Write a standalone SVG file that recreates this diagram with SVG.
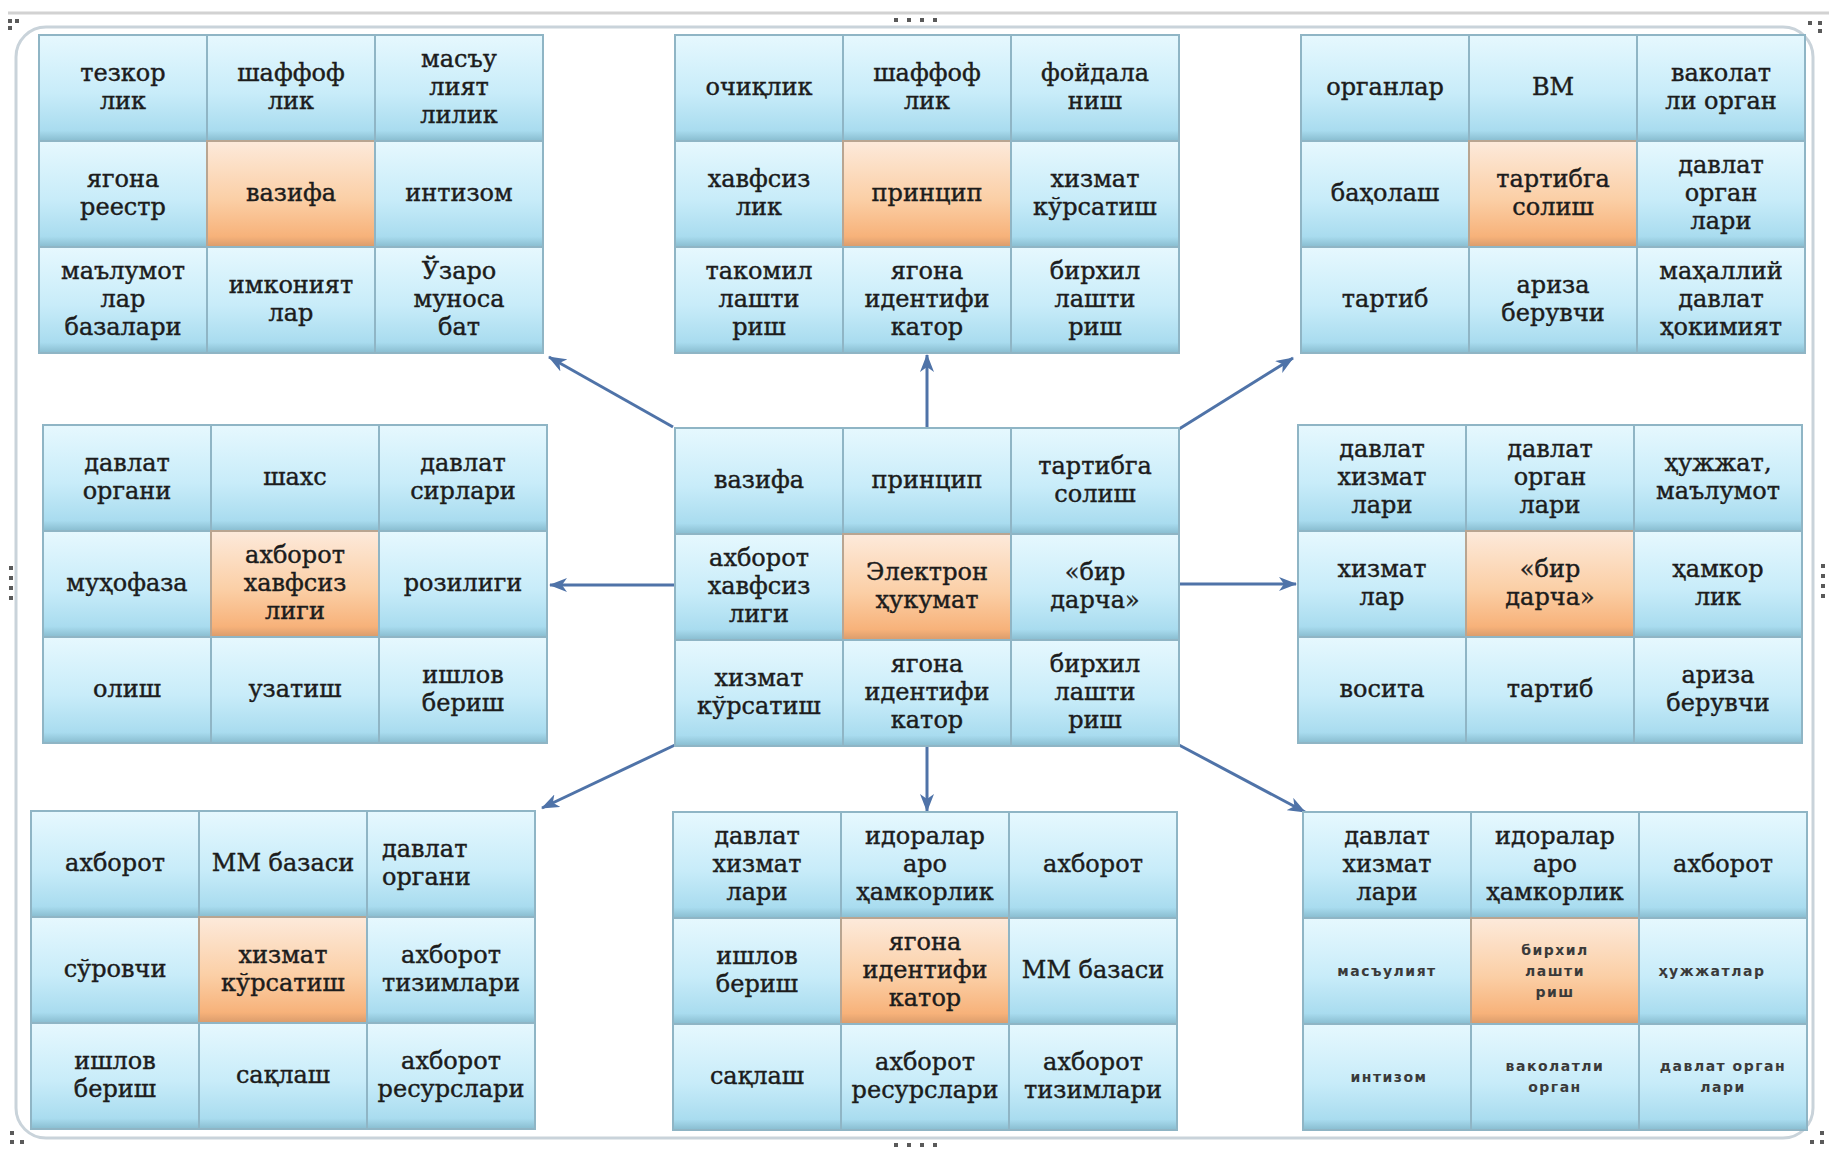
<svg xmlns="http://www.w3.org/2000/svg" width="1829" height="1149" viewBox="0 0 1829 1149">
<defs>
<linearGradient id="gb" x1="0" y1="0" x2="0" y2="1">
<stop offset="0" stop-color="#e6f8fe"/>
<stop offset="0.55" stop-color="#c8ecf9"/>
<stop offset="0.9" stop-color="#a9dcef"/>
<stop offset="1" stop-color="#88bccf"/>
</linearGradient>
<linearGradient id="go" x1="0" y1="0" x2="0" y2="1">
<stop offset="0" stop-color="#fdeadb"/>
<stop offset="0.55" stop-color="#fbcfa6"/>
<stop offset="0.9" stop-color="#f7b27a"/>
<stop offset="1" stop-color="#d99b6b"/>
</linearGradient>
<marker id="ah" markerUnits="userSpaceOnUse" markerWidth="18" markerHeight="14" refX="17" refY="7" orient="auto">
<path d="M0,0 L18,7 L0,14 L5,7 Z" fill="#4f73a8"/>
</marker>
<style>
.c{fill:url(#gb);stroke:#8fb5c5;stroke-width:2}
.o{fill:url(#go);stroke:#b9a591;stroke-width:2}
.t{font-family:"DejaVu Serif","Liberation Serif",serif;font-size:24px;fill:#1c1c1c;stroke:#1c1c1c;stroke-width:0.4;text-anchor:middle}
.s{font-family:"DejaVu Sans","Liberation Sans",sans-serif;font-size:14px;font-weight:bold;fill:#3a3a3a;text-anchor:middle;letter-spacing:1.5px}
.l{text-anchor:start}
.ar{fill:none;stroke:#4f73a8;stroke-width:3;marker-end:url(#ah)}
.h{fill:#5a5a5a}
</style>
</defs>
<rect width="1829" height="1149" fill="#ffffff"/>
<line x1="8" y1="13" x2="1829" y2="13" stroke="#d2d2d2" stroke-width="3"/>
<rect x="16" y="27" width="1797" height="1111" rx="30" fill="none" stroke="#c9d3da" stroke-width="3"/>
<g id="handles">
<rect class="h" x="8" y="19" width="4" height="4"/><rect class="h" x="15" y="19" width="4" height="4"/><rect class="h" x="8" y="26" width="4" height="4"/>
<rect class="h" x="1808" y="21" width="4" height="4"/><rect class="h" x="1818" y="21" width="4" height="4"/><rect class="h" x="1818" y="29" width="4" height="4"/>
<rect class="h" x="10" y="1131" width="4" height="4"/><rect class="h" x="10" y="1140" width="4" height="4"/><rect class="h" x="20" y="1140" width="4" height="4"/>
<rect class="h" x="1820" y="1131" width="4" height="4"/><rect class="h" x="1810" y="1140" width="4" height="4"/><rect class="h" x="1820" y="1140" width="4" height="4"/>
<rect class="h" x="894" y="18" width="4" height="4"/><rect class="h" x="907" y="18" width="4" height="4"/><rect class="h" x="920" y="18" width="4" height="4"/><rect class="h" x="933" y="18" width="4" height="4"/>
<rect class="h" x="894" y="1143" width="4" height="4"/><rect class="h" x="907" y="1143" width="4" height="4"/><rect class="h" x="920" y="1143" width="4" height="4"/><rect class="h" x="933" y="1143" width="4" height="4"/>
<rect class="h" x="9" y="566" width="4" height="4"/><rect class="h" x="9" y="576" width="4" height="4"/><rect class="h" x="9" y="586" width="4" height="4"/><rect class="h" x="9" y="596" width="4" height="4"/>
<rect class="h" x="1821" y="564" width="4" height="4"/><rect class="h" x="1821" y="574" width="4" height="4"/><rect class="h" x="1821" y="584" width="4" height="4"/><rect class="h" x="1821" y="594" width="4" height="4"/>
</g>

<g id="connectors">
<line class="ar" x1="673" y1="427" x2="549" y2="357"/>
<line class="ar" x1="927" y1="428" x2="927" y2="355"/>
<line class="ar" x1="1179" y1="429" x2="1293" y2="358"/>
<line class="ar" x1="675" y1="585" x2="550" y2="585"/>
<line class="ar" x1="1179" y1="584" x2="1296" y2="584"/>
<line class="ar" x1="675" y1="745" x2="542" y2="808"/>
<line class="ar" x1="927" y1="746" x2="927" y2="811"/>
<line class="ar" x1="1179" y1="745" x2="1305" y2="812"/>
</g>

<g id="grid-vazifa">
<g id="tl-1"><rect class="c" x="39" y="35" width="168" height="106"/><text class="t"><tspan x="123" y="81">тезкор</tspan><tspan x="123" y="109">лик</tspan></text></g>
<g id="tl-2"><rect class="c" x="207" y="35" width="168" height="106"/><text class="t"><tspan x="291" y="81">шаффоф</tspan><tspan x="291" y="109">лик</tspan></text></g>
<g id="tl-3"><rect class="c" x="375" y="35" width="168" height="106"/><text class="t"><tspan x="459" y="67">масъу</tspan><tspan x="459" y="95">лият</tspan><tspan x="459" y="123">лилик</tspan></text></g>
<g id="tl-4"><rect class="c" x="39" y="141" width="168" height="106"/><text class="t"><tspan x="123" y="187">ягона</tspan><tspan x="123" y="215">реестр</tspan></text></g>
<g id="tl-5"><rect class="o" x="207" y="141" width="168" height="106"/><text class="t" x="291" y="201">вазифа</text></g>
<g id="tl-6"><rect class="c" x="375" y="141" width="168" height="106"/><text class="t" x="459" y="201">интизом</text></g>
<g id="tl-7"><rect class="c" x="39" y="247" width="168" height="106"/><text class="t"><tspan x="123" y="279">маълумот</tspan><tspan x="123" y="307">лар</tspan><tspan x="123" y="335">базалари</tspan></text></g>
<g id="tl-8"><rect class="c" x="207" y="247" width="168" height="106"/><text class="t"><tspan x="291" y="293">имконият</tspan><tspan x="291" y="321">лар</tspan></text></g>
<g id="tl-9"><rect class="c" x="375" y="247" width="168" height="106"/><text class="t"><tspan x="459" y="279">Ўзаро</tspan><tspan x="459" y="307">муноса</tspan><tspan x="459" y="335">бат</tspan></text></g>
</g>

<g id="grid-printsip">
<g id="tm-1"><rect class="c" x="675" y="35" width="168" height="106"/><text class="t" x="759" y="95">очиқлик</text></g>
<g id="tm-2"><rect class="c" x="843" y="35" width="168" height="106"/><text class="t"><tspan x="927" y="81">шаффоф</tspan><tspan x="927" y="109">лик</tspan></text></g>
<g id="tm-3"><rect class="c" x="1011" y="35" width="168" height="106"/><text class="t"><tspan x="1095" y="81">фойдала</tspan><tspan x="1095" y="109">ниш</tspan></text></g>
<g id="tm-4"><rect class="c" x="675" y="141" width="168" height="106"/><text class="t"><tspan x="759" y="187">хавфсиз</tspan><tspan x="759" y="215">лик</tspan></text></g>
<g id="tm-5"><rect class="o" x="843" y="141" width="168" height="106"/><text class="t" x="927" y="201">принцип</text></g>
<g id="tm-6"><rect class="c" x="1011" y="141" width="168" height="106"/><text class="t"><tspan x="1095" y="187">хизмат</tspan><tspan x="1095" y="215">кўрсатиш</tspan></text></g>
<g id="tm-7"><rect class="c" x="675" y="247" width="168" height="106"/><text class="t"><tspan x="759" y="279">такомил</tspan><tspan x="759" y="307">лашти</tspan><tspan x="759" y="335">риш</tspan></text></g>
<g id="tm-8"><rect class="c" x="843" y="247" width="168" height="106"/><text class="t"><tspan x="927" y="279">ягона</tspan><tspan x="927" y="307">идентифи</tspan><tspan x="927" y="335">катор</tspan></text></g>
<g id="tm-9"><rect class="c" x="1011" y="247" width="168" height="106"/><text class="t"><tspan x="1095" y="279">бирхил</tspan><tspan x="1095" y="307">лашти</tspan><tspan x="1095" y="335">риш</tspan></text></g>
</g>

<g id="grid-tartibga-solish">
<g id="tr-1"><rect class="c" x="1301" y="35" width="168" height="106"/><text class="t" x="1385" y="95">органлар</text></g>
<g id="tr-2"><rect class="c" x="1469" y="35" width="168" height="106"/><text class="t" x="1553" y="95">ВМ</text></g>
<g id="tr-3"><rect class="c" x="1637" y="35" width="168" height="106"/><text class="t"><tspan x="1721" y="81">ваколат</tspan><tspan x="1721" y="109">ли орган</tspan></text></g>
<g id="tr-4"><rect class="c" x="1301" y="141" width="168" height="106"/><text class="t" x="1385" y="201">баҳолаш</text></g>
<g id="tr-5"><rect class="o" x="1469" y="141" width="168" height="106"/><text class="t"><tspan x="1553" y="187">тартибга</tspan><tspan x="1553" y="215">солиш</tspan></text></g>
<g id="tr-6"><rect class="c" x="1637" y="141" width="168" height="106"/><text class="t"><tspan x="1721" y="173">давлат</tspan><tspan x="1721" y="201">орган</tspan><tspan x="1721" y="229">лари</tspan></text></g>
<g id="tr-7"><rect class="c" x="1301" y="247" width="168" height="106"/><text class="t" x="1385" y="307">тартиб</text></g>
<g id="tr-8"><rect class="c" x="1469" y="247" width="168" height="106"/><text class="t"><tspan x="1553" y="293">ариза</tspan><tspan x="1553" y="321">берувчи</tspan></text></g>
<g id="tr-9"><rect class="c" x="1637" y="247" width="168" height="106"/><text class="t"><tspan x="1721" y="279">маҳаллий</tspan><tspan x="1721" y="307">давлат</tspan><tspan x="1721" y="335">ҳокимият</tspan></text></g>
</g>

<g id="grid-axborot-xavfsizligi">
<g id="ml-1"><rect class="c" x="43" y="425" width="168" height="106"/><text class="t"><tspan x="127" y="471">давлат</tspan><tspan x="127" y="499">органи</tspan></text></g>
<g id="ml-2"><rect class="c" x="211" y="425" width="168" height="106"/><text class="t" x="295" y="485">шахс</text></g>
<g id="ml-3"><rect class="c" x="379" y="425" width="168" height="106"/><text class="t"><tspan x="463" y="471">давлат</tspan><tspan x="463" y="499">сирлари</tspan></text></g>
<g id="ml-4"><rect class="c" x="43" y="531" width="168" height="106"/><text class="t" x="127" y="591">муҳофаза</text></g>
<g id="ml-5"><rect class="o" x="211" y="531" width="168" height="106"/><text class="t"><tspan x="295" y="563">ахборот</tspan><tspan x="295" y="591">хавфсиз</tspan><tspan x="295" y="619">лиги</tspan></text></g>
<g id="ml-6"><rect class="c" x="379" y="531" width="168" height="106"/><text class="t" x="463" y="591">розилиги</text></g>
<g id="ml-7"><rect class="c" x="43" y="637" width="168" height="106"/><text class="t" x="127" y="697">олиш</text></g>
<g id="ml-8"><rect class="c" x="211" y="637" width="168" height="106"/><text class="t" x="295" y="697">узатиш</text></g>
<g id="ml-9"><rect class="c" x="379" y="637" width="168" height="106"/><text class="t"><tspan x="463" y="683">ишлов</tspan><tspan x="463" y="711">бериш</tspan></text></g>
</g>

<g id="grid-elektron-hukumat">
<g id="c-1"><rect class="c" x="675" y="428" width="168" height="106"/><text class="t" x="759" y="488">вазифа</text></g>
<g id="c-2"><rect class="c" x="843" y="428" width="168" height="106"/><text class="t" x="927" y="488">принцип</text></g>
<g id="c-3"><rect class="c" x="1011" y="428" width="168" height="106"/><text class="t"><tspan x="1095" y="474">тартибга</tspan><tspan x="1095" y="502">солиш</tspan></text></g>
<g id="c-4"><rect class="c" x="675" y="534" width="168" height="106"/><text class="t"><tspan x="759" y="566">ахборот</tspan><tspan x="759" y="594">хавфсиз</tspan><tspan x="759" y="622">лиги</tspan></text></g>
<g id="c-5"><rect class="o" x="843" y="534" width="168" height="106"/><text class="t"><tspan x="927" y="580">Электрон</tspan><tspan x="927" y="608">ҳукумат</tspan></text></g>
<g id="c-6"><rect class="c" x="1011" y="534" width="168" height="106"/><text class="t"><tspan x="1095" y="580">«бир</tspan><tspan x="1095" y="608">дарча»</tspan></text></g>
<g id="c-7"><rect class="c" x="675" y="640" width="168" height="106"/><text class="t"><tspan x="759" y="686">хизмат</tspan><tspan x="759" y="714">кўрсатиш</tspan></text></g>
<g id="c-8"><rect class="c" x="843" y="640" width="168" height="106"/><text class="t"><tspan x="927" y="672">ягона</tspan><tspan x="927" y="700">идентифи</tspan><tspan x="927" y="728">катор</tspan></text></g>
<g id="c-9"><rect class="c" x="1011" y="640" width="168" height="106"/><text class="t"><tspan x="1095" y="672">бирхил</tspan><tspan x="1095" y="700">лашти</tspan><tspan x="1095" y="728">риш</tspan></text></g>
</g>

<g id="grid-bir-darcha">
<g id="mr-1"><rect class="c" x="1298" y="425" width="168" height="106"/><text class="t"><tspan x="1382" y="457">давлат</tspan><tspan x="1382" y="485">хизмат</tspan><tspan x="1382" y="513">лари</tspan></text></g>
<g id="mr-2"><rect class="c" x="1466" y="425" width="168" height="106"/><text class="t"><tspan x="1550" y="457">давлат</tspan><tspan x="1550" y="485">орган</tspan><tspan x="1550" y="513">лари</tspan></text></g>
<g id="mr-3"><rect class="c" x="1634" y="425" width="168" height="106"/><text class="t"><tspan x="1718" y="471">ҳужжат,</tspan><tspan x="1718" y="499">маълумот</tspan></text></g>
<g id="mr-4"><rect class="c" x="1298" y="531" width="168" height="106"/><text class="t"><tspan x="1382" y="577">хизмат</tspan><tspan x="1382" y="605">лар</tspan></text></g>
<g id="mr-5"><rect class="o" x="1466" y="531" width="168" height="106"/><text class="t"><tspan x="1550" y="577">«бир</tspan><tspan x="1550" y="605">дарча»</tspan></text></g>
<g id="mr-6"><rect class="c" x="1634" y="531" width="168" height="106"/><text class="t"><tspan x="1718" y="577">ҳамкор</tspan><tspan x="1718" y="605">лик</tspan></text></g>
<g id="mr-7"><rect class="c" x="1298" y="637" width="168" height="106"/><text class="t" x="1382" y="697">восита</text></g>
<g id="mr-8"><rect class="c" x="1466" y="637" width="168" height="106"/><text class="t" x="1550" y="697">тартиб</text></g>
<g id="mr-9"><rect class="c" x="1634" y="637" width="168" height="106"/><text class="t"><tspan x="1718" y="683">ариза</tspan><tspan x="1718" y="711">берувчи</tspan></text></g>
</g>

<g id="grid-xizmat-korsatish">
<g id="bl-1"><rect class="c" x="31" y="811" width="168" height="106"/><text class="t" x="115" y="871">ахборот</text></g>
<g id="bl-2"><rect class="c" x="199" y="811" width="168" height="106"/><text class="t" x="283" y="871">ММ базаси</text></g>
<g id="bl-3"><rect class="c" x="367" y="811" width="168" height="106"/><text class="t l"><tspan x="382" y="857">давлат</tspan><tspan x="382" y="885">органи</tspan></text></g>
<g id="bl-4"><rect class="c" x="31" y="917" width="168" height="106"/><text class="t" x="115" y="977">сўровчи</text></g>
<g id="bl-5"><rect class="o" x="199" y="917" width="168" height="106"/><text class="t"><tspan x="283" y="963">хизмат</tspan><tspan x="283" y="991">кўрсатиш</tspan></text></g>
<g id="bl-6"><rect class="c" x="367" y="917" width="168" height="106"/><text class="t"><tspan x="451" y="963">ахборот</tspan><tspan x="451" y="991">тизимлари</tspan></text></g>
<g id="bl-7"><rect class="c" x="31" y="1023" width="168" height="106"/><text class="t"><tspan x="115" y="1069">ишлов</tspan><tspan x="115" y="1097">бериш</tspan></text></g>
<g id="bl-8"><rect class="c" x="199" y="1023" width="168" height="106"/><text class="t" x="283" y="1083">сақлаш</text></g>
<g id="bl-9"><rect class="c" x="367" y="1023" width="168" height="106"/><text class="t"><tspan x="451" y="1069">ахборот</tspan><tspan x="451" y="1097">ресурслари</tspan></text></g>
</g>

<g id="grid-yagona-identifikator">
<g id="bm-1"><rect class="c" x="673" y="812" width="168" height="106"/><text class="t"><tspan x="757" y="844">давлат</tspan><tspan x="757" y="872">хизмат</tspan><tspan x="757" y="900">лари</tspan></text></g>
<g id="bm-2"><rect class="c" x="841" y="812" width="168" height="106"/><text class="t"><tspan x="925" y="844">идоралар</tspan><tspan x="925" y="872">аро</tspan><tspan x="925" y="900">ҳамкорлик</tspan></text></g>
<g id="bm-3"><rect class="c" x="1009" y="812" width="168" height="106"/><text class="t" x="1093" y="872">ахборот</text></g>
<g id="bm-4"><rect class="c" x="673" y="918" width="168" height="106"/><text class="t"><tspan x="757" y="964">ишлов</tspan><tspan x="757" y="992">бериш</tspan></text></g>
<g id="bm-5"><rect class="o" x="841" y="918" width="168" height="106"/><text class="t"><tspan x="925" y="950">ягона</tspan><tspan x="925" y="978">идентифи</tspan><tspan x="925" y="1006">катор</tspan></text></g>
<g id="bm-6"><rect class="c" x="1009" y="918" width="168" height="106"/><text class="t" x="1093" y="978">ММ базаси</text></g>
<g id="bm-7"><rect class="c" x="673" y="1024" width="168" height="106"/><text class="t" x="757" y="1084">сақлаш</text></g>
<g id="bm-8"><rect class="c" x="841" y="1024" width="168" height="106"/><text class="t"><tspan x="925" y="1070">ахборот</tspan><tspan x="925" y="1098">ресурслари</tspan></text></g>
<g id="bm-9"><rect class="c" x="1009" y="1024" width="168" height="106"/><text class="t"><tspan x="1093" y="1070">ахборот</tspan><tspan x="1093" y="1098">тизимлари</tspan></text></g>
</g>

<g id="grid-birxillashtirish">
<g id="br-1"><rect class="c" x="1303" y="812" width="168" height="106"/><text class="t"><tspan x="1387" y="844">давлат</tspan><tspan x="1387" y="872">хизмат</tspan><tspan x="1387" y="900">лари</tspan></text></g>
<g id="br-2"><rect class="c" x="1471" y="812" width="168" height="106"/><text class="t"><tspan x="1555" y="844">идоралар</tspan><tspan x="1555" y="872">аро</tspan><tspan x="1555" y="900">ҳамкорлик</tspan></text></g>
<g id="br-3"><rect class="c" x="1639" y="812" width="168" height="106"/><text class="t" x="1723" y="872">ахборот</text></g>
<g id="br-4"><rect class="c" x="1303" y="918" width="168" height="106"/><text class="s" x="1387" y="976">масъулият</text></g>
<g id="br-5"><rect class="o" x="1471" y="918" width="168" height="106"/><text class="s"><tspan x="1555" y="955">бирхил</tspan><tspan x="1555" y="976">лашти</tspan><tspan x="1555" y="997">риш</tspan></text></g>
<g id="br-6"><rect class="c" x="1639" y="918" width="168" height="106"/><text class="s" x="1712" y="976">ҳужжатлар</text></g>
<g id="br-7"><rect class="c" x="1303" y="1024" width="168" height="106"/><text class="s" x="1389" y="1082">интизом</text></g>
<g id="br-8"><rect class="c" x="1471" y="1024" width="168" height="106"/><text class="s"><tspan x="1555" y="1071">ваколатли</tspan><tspan x="1555" y="1092">орган</tspan></text></g>
<g id="br-9"><rect class="c" x="1639" y="1024" width="168" height="106"/><text class="s"><tspan x="1723" y="1071">давлат орган</tspan><tspan x="1723" y="1092">лари</tspan></text></g>
</g>
</svg>
